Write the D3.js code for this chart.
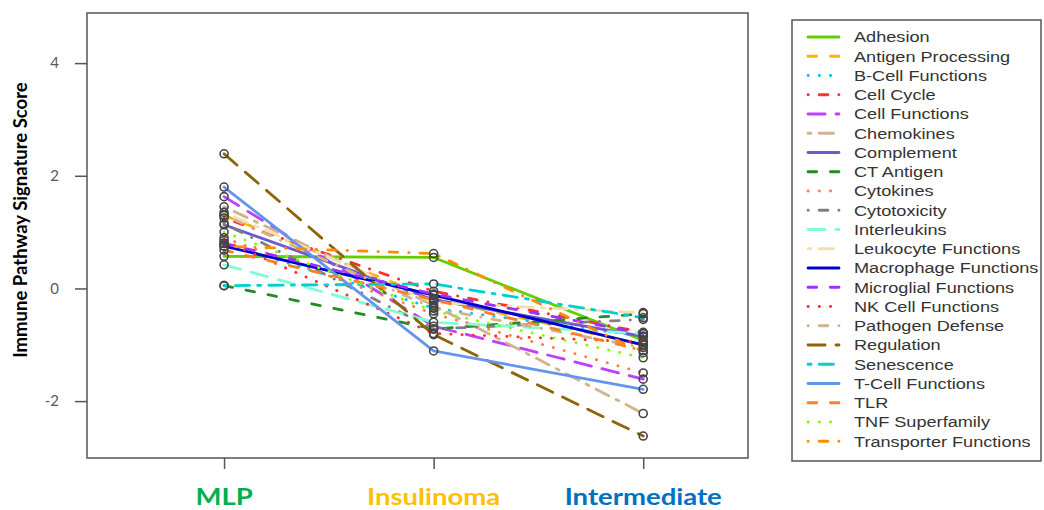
<!DOCTYPE html>
<html>
<head>
<meta charset="utf-8">
<script src="https://cdn.jsdelivr.net/npm/d3@7"></script>
<style>
  html, body { margin: 0; padding: 0; background: #fff; }
  svg { display: block; }
</style>
</head>
<body>
<svg id="chart" width="1044" height="510"></svg>
<script>
// Groups along the x axis and their label colours
const groups = ["MLP", "Insulinoma", "Intermediate"];
const groupColors = ["#00b050", "#ffc000", "#0070c0"];

// Pathway names, in legend order
const pathways = [
  "Adhesion", "Antigen Processing", "B-Cell Functions", "Cell Cycle",
  "Cell Functions", "Chemokines", "Complement", "CT Antigen", "Cytokines",
  "Cytotoxicity", "Interleukins", "Leukocyte Functions", "Macrophage Functions",
  "Microglial Functions", "NK Cell Functions", "Pathogen Defense", "Regulation",
  "Senescence", "T-Cell Functions", "TLR", "TNF Superfamily", "Transporter Functions"
];

// Signature scores per pathway: [MLP, Insulinoma, Intermediate]
const adhesion      = [0.57, 0.55, -0.92];
const antigenProc   = [1.30, -0.18, -1.00];
const bCell         = [0.80, -0.35, -0.85];
const cellCycle     = [1.25, -0.05, -0.78];
const cellFunctions = [1.63, -0.67, -1.61];
const chemokines    = [1.45, -0.30, -2.22];
const complement    = [1.13, -0.20, -0.85];
const ctAntigen     = [0.05, -0.72, -0.45];
const cytokines     = [0.90, -0.45, -1.50];
const cytotoxicity  = [1.15, -0.72, -0.55];
const interleukins  = [0.42, -0.60, -0.80];
const leukocyte     = [1.35, -0.25, -0.43];
const macrophage    = [0.75, -0.12, -1.00];
const microglial    = [0.80, -0.10, -0.80];
const nkCell        = [0.85, -0.80, -0.95];
const pathogen      = [1.30, -0.35, -1.05];
const regulation    = [2.39, -0.82, -2.62];
const senescence    = [0.05, 0.08, -0.52];
const tCell         = [1.80, -1.11, -1.79];
const tlr           = [0.68, -0.20, -1.10];
const tnf           = [1.00, -0.40, -1.23];
const transporter   = [0.75, 0.62, -1.14];

const seriesValues = [
  adhesion, antigenProc, bCell, cellCycle, cellFunctions, chemokines,
  complement, ctAntigen, cytokines, cytotoxicity, interleukins, leukocyte,
  macrophage, microglial, nkCell, pathogen, regulation, senescence,
  tCell, tlr, tnf, transporter
];

const seriesColors = [
  "#66cd00", "#ffb300", "#00bfff", "#ff3030", "#bf3eff", "#d2b48c",
  "#6a5acd", "#228b22", "#ff7f50", "#808080", "#7fffd4", "#f5deb3",
  "#0000cd", "#9b30ff", "#ff3030", "#d2b48c", "#8b6508", "#00ced1",
  "#6495ed", "#ff7f24", "#7fff00", "#ff8c00"
];

const yTicks = [-2, 0, 2, 4];

// R-style line types, cycling solid, dashed, dotted, dotdash, longdash, twodash
const ltyPatterns = [null, [4, 4], [1, 3], [1, 3, 4, 3], [7, 3], [2, 2, 6, 2]];
const lwd = 2.8;
function dashFor(i) {
  const p = ltyPatterns[i % 6];
  if (!p) return null;
  // account for round caps extending each dash
  return p.map((v, k) => {
    const len = v * lwd;
    return k % 2 === 0 ? Math.max(0.01, len - lwd * 0.9) : len + lwd * 0.9;
  }).join(",");
}

const svg = d3.select("#chart");
const plot = { left: 87, right: 748, top: 13, bottom: 458 };

const x = d3.scaleLinear().domain([0.346, 3.5]).range([plot.left, plot.right]);
const y = d3.scaleLinear().domain([-3.01, 4.89]).range([plot.bottom, plot.top]);

// Frame
svg.append("rect")
  .attr("x", plot.left).attr("y", plot.top)
  .attr("width", plot.right - plot.left).attr("height", plot.bottom - plot.top)
  .attr("fill", "none").attr("stroke", "#555").attr("stroke-width", 1.5);

// Y axis
const yAxis = svg.append("g")
  .attr("transform", `translate(${plot.left},0)`)
  .call(d3.axisLeft(y).tickValues(yTicks).tickSize(12).tickPadding(16).tickFormat(d => String(d)));
yAxis.select(".domain").remove();
yAxis.selectAll(".tick line").attr("stroke", "#555").attr("stroke-width", 1.5);
yAxis.selectAll(".tick text")
  .attr("fill", "#595959")
  .style("font-family", "Lato, 'Open Sans', sans-serif")
  .style("font-size", "15px");

// X axis
const xAxis = svg.append("g")
  .attr("transform", `translate(0,${plot.bottom})`)
  .call(d3.axisBottom(x).tickValues([1, 2, 3]).tickSize(11).tickFormat(""));
xAxis.select(".domain").remove();
xAxis.selectAll(".tick line").attr("stroke", "#555").attr("stroke-width", 1.5);

// Group labels, set slightly wide
svg.append("g").selectAll("text")
  .data(groups)
  .join("text")
  .attr("transform", (d, i) => `translate(${x(i + 1)},505) scale(1.25,1)`)
  .attr("text-anchor", "middle")
  .attr("fill", (d, i) => groupColors[i])
  .style("font-family", "Lato, 'Open Sans', sans-serif")
  .style("font-weight", "bold")
  .style("font-size", "22px")
  .text(d => d);

// Y axis title
svg.append("text")
  .attr("transform", "translate(27,220) rotate(-90)")
  .attr("text-anchor", "middle")
  .attr("fill", "#000")
  .style("font-family", "Lato, 'Open Sans', sans-serif")
  .style("font-weight", "bold")
  .style("font-size", "18.5px")
  .text("Immune Pathway Signature Score");

// Series lines
const line = d3.line().x((d, i) => x(i + 1)).y(d => y(d));
const linesG = svg.append("g");
seriesValues.forEach((vals, i) => {
  linesG.append("path")
    .attr("d", line(vals))
    .attr("fill", "none")
    .attr("stroke", seriesColors[i])
    .attr("stroke-width", lwd)
    .attr("stroke-linecap", "round")
    .attr("stroke-linejoin", "round")
    .attr("stroke-dasharray", dashFor(i));
});

// Point markers
const ptsG = svg.append("g");
seriesValues.forEach(vals => {
  ptsG.selectAll(null)
    .data(vals)
    .join("circle")
    .attr("cx", (d, i) => x(i + 1))
    .attr("cy", d => y(d))
    .attr("r", 4)
    .attr("fill", "none")
    .attr("stroke", "#444")
    .attr("stroke-width", 1.6);
});

// Legend
const legend = { left: 792, top: 20, right: 1041, bottom: 461, row0: 37, step: 19.25 };
svg.append("rect")
  .attr("x", legend.left).attr("y", legend.top)
  .attr("width", legend.right - legend.left).attr("height", legend.bottom - legend.top)
  .attr("fill", "#fff").attr("stroke", "#555").attr("stroke-width", 1.5);

const items = svg.append("g").selectAll("g")
  .data(pathways)
  .join("g")
  .attr("transform", (d, i) => `translate(0,${legend.row0 + i * legend.step})`);

items.append("line")
  .attr("x1", 808).attr("x2", 839)
  .attr("y1", 0).attr("y2", 0)
  .attr("stroke", (d, i) => seriesColors[i])
  .attr("stroke-width", lwd)
  .attr("stroke-linecap", "round")
  .attr("stroke-dasharray", (d, i) => dashFor(i));

items.append("text")
  .attr("transform", "translate(854,0) scale(1.17,1)")
  .attr("dy", "0.35em")
  .attr("fill", "#333")
  .style("font-family", "'Liberation Sans', Arial, sans-serif")
  .style("font-size", "15.5px")
  .text(d => d);
</script>
</body>
</html>
